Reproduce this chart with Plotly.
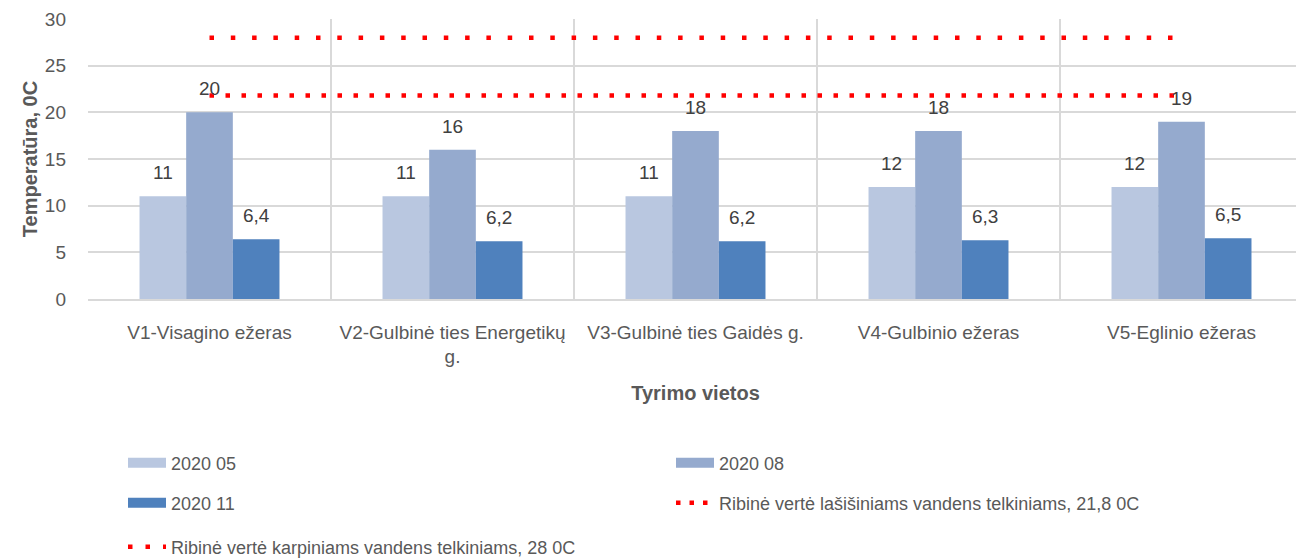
import plotly.graph_objects as go

categories = ["V1-Visagino ežeras", "V2-Gulbinė ties Energetikų<br>g.", "V3-Gulbinė ties Gaidės g.",
              "V4-Gulbinio ežeras", "V5-Eglinio ežeras"]
s_2020_05 = [11, 11, 11, 12, 12]
s_2020_08 = [20, 16, 18, 18, 19]
s_2020_11 = [6.4, 6.2, 6.2, 6.3, 6.5]
limit_salmon = [21.8, 21.8, 21.8, 21.8, 21.8]
limit_carp = [28, 28, 28, 28, 28]
series_names = ["2020 05", "2020 08", "2020 11"]
line_names = ["Ribinė vertė lašišiniams vandens telkiniams, 21,8 0C",
              "Ribinė vertė karpiniams vandens telkiniams, 28 0C"]
yticks = [0, 5, 10, 15, 20, 25, 30]

colors = ["#B9C7E0", "#95AACE", "#4F81BD"]
FONT = "Liberation Sans, Arial, sans-serif"
OFF = 8  # default page body margin
W, H = 1304 - OFF, 560 - OFF
ML, MR, MT, MB = 88 - OFF, 1, 19 - OFF, 261
bargap = 0.424

def fmt(v):
    return ("%g" % v).replace(".", ",")

fig = go.Figure()
for name, vals, col in zip(series_names, [s_2020_05, s_2020_08, s_2020_11], colors):
    fig.add_trace(go.Bar(x=categories, y=vals, name=name, marker=dict(color=col, line=dict(width=0)),
                         showlegend=False))

fig.add_trace(go.Scatter(x=categories, y=limit_salmon, name=line_names[0], mode="lines",
                         line=dict(color="#FF0000", width=4.5, dash="4.5px,11.5px"), showlegend=False))
fig.add_trace(go.Scatter(x=categories, y=limit_carp, name=line_names[1], mode="lines",
                         line=dict(color="#FF0000", width=4.5, dash="4.5px,16.8px"), showlegend=False))

# legend entries (wide swatches like the reference)
legend_items = [
    (series_names[0], colors[0], 12, "solid", "legend"),
    (series_names[1], colors[1], 12, "solid", "legend"),
    (series_names[2], colors[2], 12, "solid", "legend2"),
    (line_names[0], "#FF0000", 4.5, "4.5px,9px", "legend2"),
    (line_names[1], "#FF0000", 4.5, "4.5px,13px", "legend3"),
]
for name, col, wdt, dash, lg in legend_items:
    fig.add_trace(go.Scatter(x=[None], y=[None], name=name, mode="lines",
                             line=dict(color=col, width=wdt, dash=dash), legend=lg, showlegend=True))

plot_w = W - ML - MR
cat_px = plot_w / len(categories)
bar_px = cat_px * (1 - bargap) / 3
shifts = [-bar_px, 0, bar_px]
for vals, sh in zip([s_2020_05, s_2020_08, s_2020_11], shifts):
    for c, v in zip(categories, vals):
        fig.add_annotation(x=c, y=v, text=fmt(v), showarrow=False, xshift=sh, yshift=11,
                           yanchor="bottom", font=dict(size=19, color="#404040", family=FONT))

def cy(px):
    return 1 - (px - OFF) / H

def cx(px):
    return (px - OFF) / W

leg_common = dict(orientation="h", xanchor="left", yanchor="middle", yref="container", xref="container",
                  bgcolor="rgba(0,0,0,0)",
                  font=dict(size=18, color="#595959", family=FONT), entrywidth=495,
                  entrywidthmode="pixels", traceorder="normal", itemwidth=38)
fig.update_layout(
    width=W, height=H,
    margin=dict(l=ML, r=MR, t=MT, b=MB, autoexpand=False),
    plot_bgcolor="white", paper_bgcolor="white",
    barmode="group", bargap=bargap, bargroupgap=0,
    font=dict(family=FONT, color="#595959", size=18),
    showlegend=True,
    legend=dict(x=cx(123), y=cy(463), **leg_common),
    legend2=dict(x=cx(123), y=cy(503), **leg_common),
    legend3=dict(x=cx(123), y=cy(547), **leg_common),
    xaxis=dict(tickson="boundaries", showgrid=True, gridcolor="#D9D9D9", gridwidth=1.5,
               showline=True, linecolor="#D9D9D9", linewidth=1.5, ticks="", automargin=False,
               tickfont=dict(size=19, color="#595959"), ticklabelstandoff=15,
               title=dict(text="<b>Tyrimo vietos</b>", font=dict(size=20, color="#595959"), standoff=20)),
    yaxis=dict(range=[0, 30], tickvals=yticks, showgrid=True, gridcolor="#D9D9D9", gridwidth=1.5,
               zeroline=False, ticks="", automargin=False,
               tickfont=dict(size=19, color="#595959"), ticklabelstandoff=21,
               title=dict(text="<b>Temperatūra, 0C</b>", font=dict(size=20, color="#595959"), standoff=1)),
)

fig.write_html("out.html")
